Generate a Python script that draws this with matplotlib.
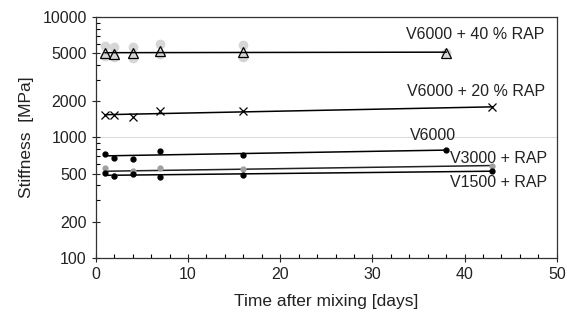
import matplotlib
matplotlib.use("Agg")
import matplotlib.pyplot as plt
import numpy as np
from matplotlib.ticker import FixedLocator, NullFormatter

plt.rcParams['font.family'] = ['Liberation Sans', 'DejaVu Sans']

# days after mixing
dias_a = [1, 2, 4, 7, 16, 38]
dias_b = [1, 2, 4, 7, 16, 43]

# V6000 + 40 % RAP (mean and single replicates)
rap40 = [5060, 4930, 5000, 5220, 5150, 5060]
rap40_alto = [5740, 5640, 5640, 5920, 5860, 5030]
rap40_bajo = [4740, 4660, 4530, 4890, 4660, 5030]

# V6000 + 20 % RAP
rap20 = [1540, 1540, 1490, 1660, 1660, 1780]

# V6000
v6000 = [730, 680, 668, 773, 720, 787]

# V3000 + RAP
v3000 = [555, 480, 524, 555, 545, 583]

# V1500 + RAP
v1500 = [505, 479, 496, 472, 490, 530]

etiquetas = ["V6000 + 40 % RAP", "V6000 + 20 % RAP", "V6000", "V3000 + RAP", "V1500 + RAP"]

fig = plt.figure(figsize=(5.67, 3.24), dpi=100)
ax = fig.add_axes([0.169, 0.204, 0.813, 0.7435])
ax.set_yscale('log')


def tendencia(x, y, color='black'):
    # linear trend line over the measured range
    k, d = np.polyfit(x, y, 1)
    xx = np.array([min(x), max(x)])
    ax.plot(xx, k * xx + d, '-', color=color, lw=1.1, zorder=2)


# gridlines at decades
for g in [100, 1000, 10000]:
    ax.axhline(g, color='#dcdcdc', lw=0.8, zorder=0)

# 40 % RAP replicates and means
ax.plot(dias_a, rap40_alto, 'o', color='#d6d6d6', ms=7, mec='none', zorder=1)
ax.plot(dias_a, rap40_bajo, 'o', color='#d6d6d6', ms=7, mec='none', zorder=1)
tendencia(dias_a, rap40)
ax.plot(dias_a, rap40, '^', mfc='none', mec='black', ms=6.5, mew=0.9, zorder=3)

# 20 % RAP
tendencia(dias_b, rap20)
ax.plot(dias_b, rap20, 'x', color='black', ms=6, mew=0.9, zorder=3)

# V6000
tendencia(dias_a, v6000)
ax.plot(dias_a, v6000, 'o', color='black', ms=3.5, zorder=3)

# V3000 + RAP
tendencia(dias_b, v3000, color='#222222')
ax.plot(dias_b, v3000, 'o', color='#a0a0a0', ms=3.5, zorder=3)

# V1500 + RAP
tendencia(dias_b, v1500)
ax.plot(dias_b, v1500, 'o', color='black', ms=3.5, zorder=4)

fs = 11.5
ax.text(48.7, 7090, etiquetas[0], ha='right', va='center', fontsize=fs, color='#222222')
ax.text(48.7, 2385, etiquetas[1], ha='right', va='center', fontsize=fs, color='#222222')
ax.text(36.6, 1030, etiquetas[2], ha='center', va='center', fontsize=fs, color='#222222')
ax.text(48.9, 675, etiquetas[3], ha='right', va='center', fontsize=fs, color='#222222')
ax.text(48.9, 419, etiquetas[4], ha='right', va='center', fontsize=fs, color='#222222')

ax.set_xlim(0, 50)
ax.set_ylim(100, 10000)
ax.xaxis.set_major_locator(FixedLocator([0, 10, 20, 30, 40, 50]))
ax.xaxis.set_minor_locator(FixedLocator(np.arange(0, 51, 2)))
ax.yaxis.set_major_locator(FixedLocator([100, 200, 500, 1000, 2000, 5000, 10000]))
menores = [v * m for m in [100, 1000] for v in range(1, 10) if v not in (1, 2, 5)]
ax.yaxis.set_minor_locator(FixedLocator(menores))
ax.yaxis.set_minor_formatter(NullFormatter())
ax.set_yticklabels(['100', '200', '500', '1000', '2000', '5000', '10000'])

ax.tick_params(which='major', direction='inout', length=6, width=0.8, labelsize=fs, colors='#222222')
ax.tick_params(which='minor', direction='in', length=3, width=0.8)
for s in ax.spines.values():
    s.set_color('#333333')
    s.set_linewidth(0.9)

ax.set_xlabel("Time after mixing [days]", fontsize=12.5, color='#222222', labelpad=9)
ax.set_ylabel("Stiffness  [MPa]", fontsize=12.5, color='#222222', labelpad=6)

fig.savefig("out.png", dpi=100)
